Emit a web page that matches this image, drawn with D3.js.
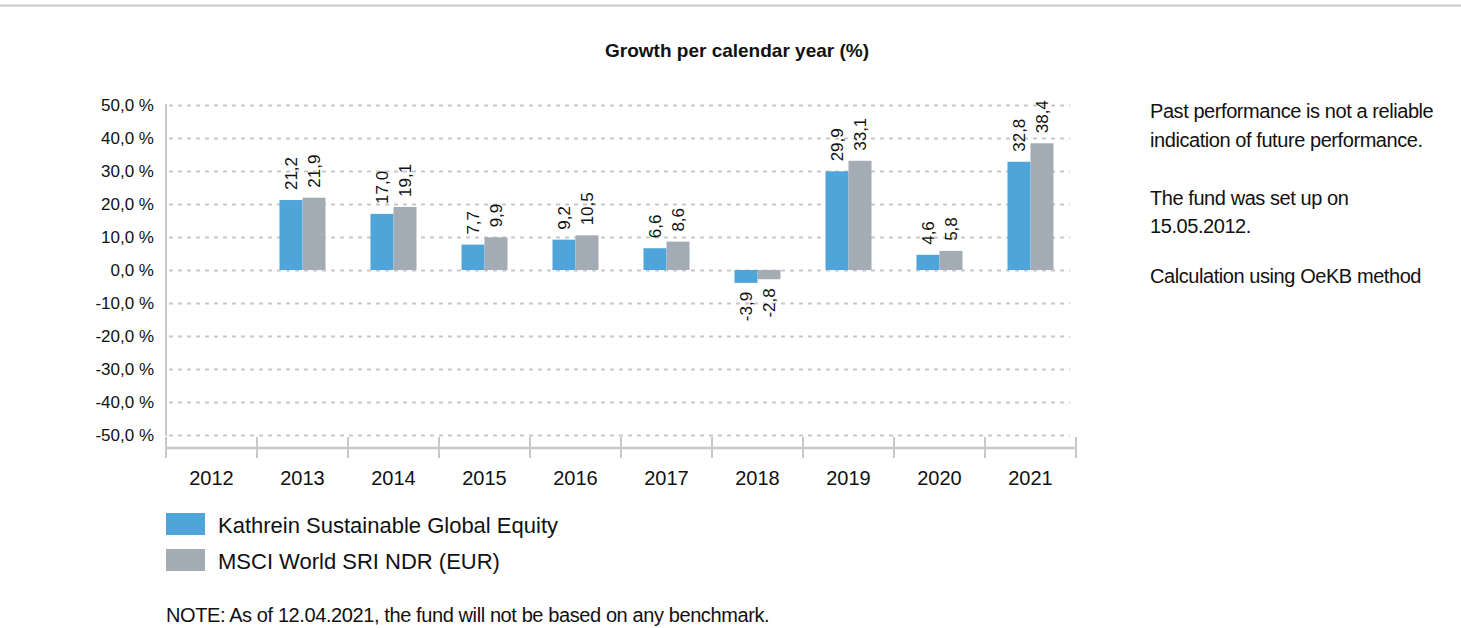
<!DOCTYPE html>
<html lang="en">
<head>
<meta charset="UTF-8">
<title>Growth per calendar year</title>
<script src="https://d3js.org/d3.v7.min.js"></script>
<style>
    body { margin: 0; background: #fff; }
    svg { display: block; font-family: "Liberation Sans", Arial, sans-serif; }
</style>
</head>
<body>
<svg width="1461" height="628"></svg>
<script>
    // chart data
    const years = ["2012", "2013", "2014", "2015", "2016", "2017", "2018", "2019", "2020", "2021"];
    const fundValues = [null, 21.2, 17.0, 7.7, 9.2, 6.6, -3.9, 29.9, 4.6, 32.8];
    const benchValues = [null, 21.9, 19.1, 9.9, 10.5, 8.6, -2.8, 33.1, 5.8, 38.4];
    const seriesNames = ["Kathrein Sustainable Global Equity", "MSCI World SRI NDR (EUR)"];
    const seriesColors = ["#4fa4da", "#a3acb5"];
    const yTicks = [-50, -40, -30, -20, -10, 0, 10, 20, 30, 40, 50];
    const title = "Growth per calendar year (%)";
    const sideNotes = ["Past performance is not a reliable", "indication of future performance.", "",
        "The fund was set up on", "15.05.2012.", "", "Calculation using OeKB method"];
    const footNote = "NOTE: As of 12.04.2021, the fund will not be based on any benchmark.";

    const svg = d3.select("svg");
    const gridColor = "#c8c8c8";

    // thin rule at the very top of the page
    svg.append("line").attr("x1", 0).attr("x2", 1461).attr("y1", 5.5).attr("y2", 5.5)
        .attr("stroke", gridColor).attr("stroke-width", 2);

    svg.append("text").attr("x", 737).attr("y", 57).attr("text-anchor", "middle")
        .attr("font-size", 19).attr("font-weight", "bold").attr("fill", "#111").text(title);

    //------------------------------------
    // scales
    const x = d3.scaleBand().domain(years).range([166, 1076]);
    const y = d3.scaleLinear().domain([-50, 50]).range([435, 105]);
    const barW = 23;

    // y axis + dashed grid
    const yAxis = d3.axisLeft(y).tickValues(yTicks).tickSize(-904).tickPadding(12)
        .tickFormat(d => d.toFixed(1).replace(".", ",") + " %");
    const gy = svg.append("g").attr("transform", "translate(166,0)").call(yAxis);
    gy.select(".domain").remove();
    gy.selectAll(".tick line").attr("stroke", gridColor).attr("stroke-width", 2)
        .attr("stroke-dasharray", "4,5").attr("x1", 3);
    gy.selectAll(".tick text").attr("font-size", 17).attr("fill", "#111")
        .attr("font-family", "Liberation Sans, Arial, sans-serif");
    svg.append("line").attr("x1", 166).attr("x2", 166).attr("y1", 104).attr("y2", 436)
        .attr("stroke", gridColor).attr("stroke-width", 2);

    // x axis with ticks on the band edges
    const xAxisY = 448;
    svg.append("line").attr("x1", 166).attr("x2", 1076).attr("y1", xAxisY).attr("y2", xAxisY)
        .attr("stroke", gridColor).attr("stroke-width", 2.5);
    const edges = years.map(d => x(d)).concat([x.range()[1]]);
    svg.selectAll(".xtick").data(edges).join("line").attr("class", "xtick")
        .attr("x1", d => d).attr("x2", d => d).attr("y1", 437).attr("y2", 458)
        .attr("stroke", gridColor).attr("stroke-width", 2);
    svg.selectAll(".xlabel").data(years).join("text").attr("class", "xlabel")
        .attr("x", d => x(d) + x.bandwidth() / 2).attr("y", 485)
        .attr("text-anchor", "middle").attr("font-size", 20).attr("fill", "#111").text(d => d);

    //------------------------------------
    // bars
    const rows = [];
    years.forEach((yr, i) => {
        [fundValues[i], benchValues[i]].forEach((v, s) => {
            if (v !== null) rows.push({year: yr, s: s, v: v});
        });
    });
    const bx = d => x(d.year) + x.bandwidth() / 2 - barW + d.s * barW;

    svg.selectAll(".bar").data(rows).join("rect").attr("class", "bar")
        .attr("x", bx).attr("width", barW)
        .attr("y", d => y(Math.max(0, d.v)))
        .attr("height", d => Math.abs(y(d.v) - y(0)))
        .attr("fill", d => seriesColors[d.s]);

    svg.selectAll(".val").data(rows).join("text").attr("class", "val")
        .attr("transform", d => {
            const cx = bx(d) + barW / 2;
            const cy = d.v >= 0 ? y(d.v) - 10 : y(d.v) + 9;
            return `translate(${cx},${cy}) rotate(-90)`;
        })
        .attr("dy", "0.35em")
        .attr("text-anchor", d => d.v >= 0 ? "start" : "end")
        .attr("font-size", 17).attr("fill", "#111")
        .text(d => d.v.toFixed(1).replace(".", ","));

    //------------------------------------
    // legend
    const lg = svg.selectAll(".leg").data(seriesNames).join("g").attr("class", "leg")
        .attr("transform", (d, i) => `translate(166,${513 + i * 36})`);
    lg.append("rect").attr("width", 39).attr("height", 22).attr("fill", (d, i) => seriesColors[i]);
    lg.append("text").attr("x", 52).attr("y", 20).attr("font-size", 22).attr("fill", "#111").text(d => d);

    // side notes and footnote
    const side = [118, 147, null, 205, 233, null, 283];
    svg.selectAll(".side").data(sideNotes.map((t, i) => ({t: t, yy: side[i]})).filter(d => d.t))
        .join("text").attr("class", "side")
        .attr("x", 1150).attr("y", d => d.yy).attr("font-size", 20).attr("letter-spacing", -0.43)
        .attr("fill", "#111").text(d => d.t);

    svg.append("text").attr("x", 166).attr("y", 622).attr("font-size", 20).attr("letter-spacing", -0.4)
        .attr("fill", "#111").text(footNote);
</script>
</body>
</html>
